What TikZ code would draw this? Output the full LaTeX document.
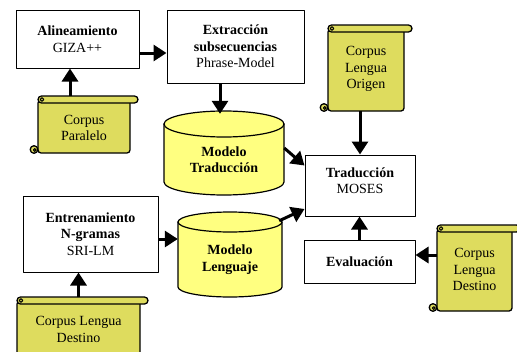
\documentclass[tikz,border=0pt]{standalone}
\usepackage{fontspec}
\setmainfont{Liberation Serif}
\usetikzlibrary{arrows.meta}
\definecolor{scrollfill}{RGB}{222,220,94}
\definecolor{cylfill}{RGB}{255,255,128}
\tikzset{
	box/.style={draw,line width=1pt,fill=white,align=center,inner sep=0pt},
	body/.style={align=center,inner sep=0pt},
	flow/.style={line width=3pt,-{Triangle[length=13pt,width=16pt]}},
	scrollline/.style={draw,line width=1.3pt,fill=scrollfill,line join=round},
	cylline/.style={draw,line width=1.2pt,fill=cylfill}
}
% scroll: body left, roll top, body right, body bottom
\newcommand{\scrollshape}[4]{%
	\draw[scrollline,rounded corners=3pt] (#1,#2+4) -- (#1,#4) -- (#3,#4) -- (#3,#2+4) -- cycle;
	\draw[scrollline] (#1-4,#4-3.5) circle[radius=3.8];
	\draw[line width=1pt] (#1-3.2,#4-3) circle[radius=1.4];
	\draw[scrollline,rounded corners=3.5pt] (#1,#2) rectangle (#3+8,#2+7);
	\draw[line width=1pt] (#1+4,#2+3.5) circle[radius=1.8];
}
% cylinder: left, right, top, bottom, y radius
\newcommand{\cylshape}[5]{%
	\draw[cylline] (#1,#3+#5) -- (#1,#4-#5) arc[start angle=180,end angle=0,x radius={(#2-#1)/2},y radius=#5] -- (#2,#3+#5) -- cycle;
	\draw[cylline] ({(#1+#2)/2},#3+#5) ellipse[x radius={(#2-#1)/2},y radius=#5];
}
\begin{document}
\begin{tikzpicture}[x=1pt,y=-1pt,line join=round,every node/.style={font=\fontsize{14}{16.5}\selectfont}]
	\useasboundingbox (0,0) rectangle (517,351);
	\clip (0,0) rectangle (517,351);
	\fill[white] (0,0) rectangle (517,351);
	% corpus
	\scrollshape{38}{96}{130}{153}
	\node[body,minimum width=92pt,minimum height=50pt] (cp) at (84,128) {Corpus\\Paralelo};
	\scrollshape{328}{25}{404}{111}
	\node[body,minimum width=76pt,minimum height=74pt] (clo) at (366,69) {Corpus\\Lengua\\Origen};
	\scrollshape{437}{225}{512}{311}
	\node[body,minimum width=75pt,minimum height=75pt] (cld) at (474.5,269.5) {Corpus\\Lengua\\Destino};
	\scrollshape{17}{297}{140}{365}
	\node[body,minimum width=123pt,minimum height=51pt] (cld2) at (78.5,329.5) {Corpus Lengua\\Destino};
	% modelos
	\cylshape{164}{284}{111}{195}{13}
	\node[body,minimum width=120pt,minimum height=71pt] (mt) at (224,159.5) {\textbf{Modelo}\\\textbf{Traducción}};
	\cylshape{178}{282}{212}{297}{10}
	\node[body,minimum width=104pt,minimum height=75pt] (ml) at (230,259.5) {\textbf{Modelo}\\\textbf{Lenguaje}};
	% procesos
	\node[box,minimum width=123pt,minimum height=58pt] (ali) at (77.5,39) {\textbf{Alineamiento}\\GIZA++};
	\node[box,minimum width=137pt,minimum height=73pt] (ext) at (235.5,46.5) {\textbf{Extracción}\\\textbf{subsecuencias}\\Phrase-Model};
	\node[box,minimum width=110pt,minimum height=61pt,
		label={[align=center,yshift=5pt]center:\textbf{Traducción}\\MOSES}] (tra) at (360,185.5) {};
	\node[box,minimum width=111pt,minimum height=43pt] (eva) at (359.5,261.5) {\textbf{Evaluación}};
	\node[box,minimum width=135pt,minimum height=76pt] (ent) at (90.5,234) {\textbf{Entrenamiento}\\\textbf{N-gramas}\\SRI-LM};
	% flechas
	\draw[flow] ([yshift=-14pt]ali.east) -- ([yshift=-14pt]ali.east -| ext.west);
	\draw[flow] ([shift={(-14pt,7pt)}]cp.north) -- ([xshift=-14pt]cp.north |- ali.south);
	\draw[flow] ([xshift=-4pt]mt.north |- ext.south) -- ([shift={(-4pt,10pt)}]mt.north);
	\draw[flow] ([yshift=-5pt]clo.south -| tra.north) -- (tra.north);
	\draw[flow] ([yshift=11.5pt]mt.east) -- ([yshift=20pt]tra.west);
	\draw[flow] ([shift={(-3pt,1pt)}]ml.north east) -- ([yshift=-23.5pt]tra.west);
	\draw[flow] ([yshift=-5pt]ent.east) -- ([yshift=-5pt]ent.east -| ml.west);
	\draw[flow] ([yshift=7pt]cld2.north) -- (cld2.north |- ent.south);
	\draw[flow] (eva.north) -- (eva.north |- tra.south);
	\draw[flow] ([yshift=6.5pt]eva.east -| cld.west) -- ([yshift=6.5pt]eva.east);
\end{tikzpicture}
\end{document}
